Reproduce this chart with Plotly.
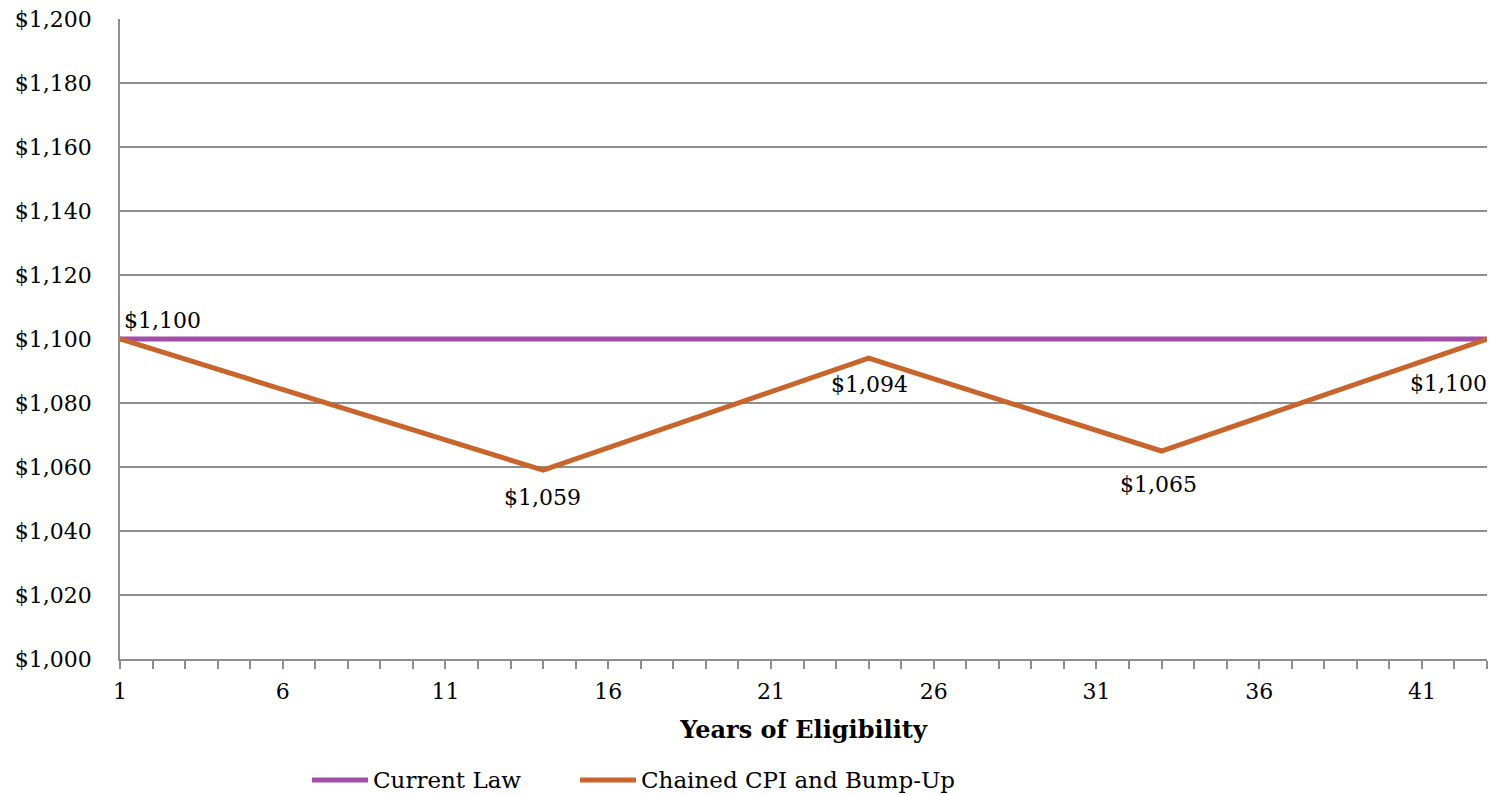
import plotly.graph_objects as go

# Years of eligibility and monthly benefit levels
law_name = "Current Law"
law_years = [1, 43]
law_values = [1100, 1100]

cpi_name = "Chained CPI and Bump-Up"
cpi_years = [1, 14, 24, 33, 43]
cpi_values = [1100, 1059, 1094, 1065, 1100]

x_ticks = [1, 6, 11, 16, 21, 26, 31, 36, 41]
y_ticks = list(range(1000, 1201, 20))

FONT = "DejaVu Serif"
GRID = "#8e8e8e"
PURPLE = "#A24FA9"
ORANGE = "#C8652C"

fig = go.Figure()
fig.add_trace(go.Scatter(
    x=law_years, y=law_values, mode="lines", name=law_name,
    line=dict(color=PURPLE, width=5),
))
fig.add_trace(go.Scatter(
    x=cpi_years, y=cpi_values, mode="lines", name=cpi_name,
    line=dict(color=ORANGE, width=5),
))

# Data labels for the chained-CPI series: (x anchor, y anchor, x shift, y shift)
label_style = [
    ("left", "middle", 2, 19),
    ("center", "middle", -1, -27),
    ("center", "middle", 1, -26),
    ("center", "middle", -3, -33),
    ("right", "middle", 2, -44),
]
for yr, val, (xa, ya, dx, dy) in zip(cpi_years, cpi_values, label_style):
    fig.add_annotation(
        x=yr, y=val, text=f"${val:,}", showarrow=False,
        xanchor=xa, yanchor=ya, xshift=dx, yshift=dy,
        font=dict(family=FONT, size=22, color="#000000"),
    )

# Legend drawn below the axis title
legend_items = [(law_name, PURPLE, 312), (cpi_name, ORANGE, 580)]
plot_left, plot_w, plot_bottom, plot_h = 120, 1367, 659, 640
leg_py = 780
leg_y = (plot_bottom - leg_py) / plot_h
for name, color, px in legend_items:
    x0 = (px - plot_left) / plot_w
    x1 = (px + 56 - plot_left) / plot_w
    fig.add_shape(type="line", xref="paper", yref="paper", x0=x0, x1=x1, y0=leg_y, y1=leg_y,
                  line=dict(color=color, width=5))
    fig.add_annotation(
        xref="paper", yref="paper", x=(px + 59 - plot_left) / plot_w, y=leg_y,
        text=name, showarrow=False, xanchor="left", yanchor="middle",
        font=dict(family=FONT, size=23, color="#000000"),
    )

fig.update_layout(
    width=1501, height=795,
    margin=dict(l=120, r=14, t=19, b=136),
    paper_bgcolor="white", plot_bgcolor="white",
    font=dict(family=FONT, size=22, color="#000000"),
    showlegend=False,
    xaxis=dict(
        range=[1, 43], tickvals=x_ticks, ticks="outside", ticklen=8, tickwidth=1.5,
        tickcolor=GRID, showgrid=False, zeroline=False, automargin=False,
        showline=True, linecolor=GRID, linewidth=1.5,
        minor=dict(dtick=1, tick0=1, ticks="outside", ticklen=8, tickwidth=1.5,
                   tickcolor=GRID, showgrid=False),
        title=dict(text="<b>Years of Eligibility</b>", font=dict(family=FONT, size=24), standoff=18),
        tickfont=dict(family=FONT, size=22), ticklabelstandoff=4,
    ),
    yaxis=dict(
        range=[1000, 1200], tickvals=y_ticks,
        ticktext=[f"${v:,}" for v in y_ticks],
        showgrid=True, gridcolor=GRID, gridwidth=1.5, zeroline=False, automargin=False,
        showline=True, linecolor=GRID, linewidth=1.5, ticks="",
        tickfont=dict(family=FONT, size=22), ticklabelstandoff=22,
    ),
)

fig.write_html("out.html")
